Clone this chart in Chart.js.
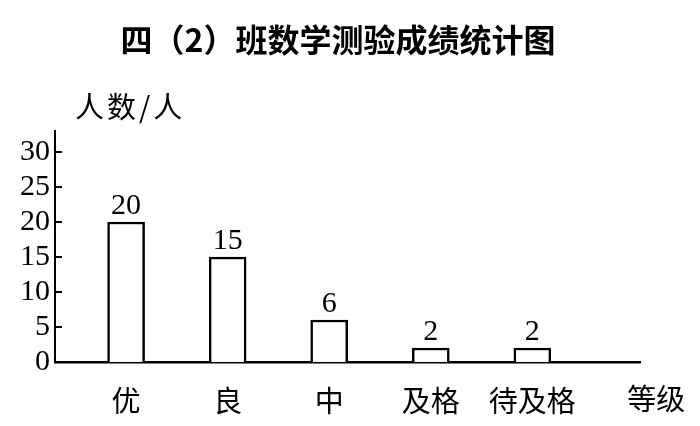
<!DOCTYPE html>
<html>
<head>
<meta charset="utf-8">
<script src="https://cdn.jsdelivr.net/npm/chart.js@4"></script>
<style>
  html, body { margin: 0; padding: 0; background: #fff; }
  #wrap { width: 700px; height: 426px; }
</style>
</head>
<body>
<div id="wrap"><canvas id="chart"></canvas></div>
<script>
// data
let grades = ['优', '良', '中', '及格', '待及格'];
let counts = [20, 15, 6, 2, 2];
let yTicks = [0, 5, 10, 15, 20, 25, 30];
let yTitle = '人数/人';
let xTitle = '等级';
let title = '四（2）班数学测验成绩统计图';

let cjk = '"Noto Sans CJK SC", "Noto Sans", sans-serif';
let serif = '"Liberation Serif", "DejaVu Serif", serif';

// title, numbers over bars, tick marks pointing right, axis names
let extras = {
  id: 'extras',
  afterDatasetsDraw(chart) {
    let ctx = chart.ctx;
    let area = chart.chartArea;
    let y = chart.scales.y;
    let x = chart.scales.x;
    ctx.save();
    ctx.strokeStyle = '#000';
    ctx.lineWidth = 2;
    yTicks.forEach(function (t) {
      let py = y.getPixelForValue(t);
      ctx.beginPath();
      ctx.moveTo(area.left, py);
      ctx.lineTo(area.left + 7, py);
      ctx.stroke();
    });
    ctx.fillStyle = '#000';
    ctx.font = '30px ' + serif;
    ctx.textAlign = 'center';
    ctx.textBaseline = 'bottom';
    chart.getDatasetMeta(0).data.forEach(function (bar, i) {
      ctx.fillText(String(counts[i]), bar.x, bar.y - 1);
    });
    ctx.textBaseline = 'middle';
    ctx.font = 'bold 32px ' + cjk;
    ctx.fillText(title, 338, 40);
    ctx.font = '29px ' + cjk;
    ctx.fillText(xTitle, x.getPixelForValue(5.22), 399);
    ctx.letterSpacing = '3px';
    ctx.textAlign = 'left';
    ctx.fillText(yTitle, area.left + 20, 107);
    ctx.restore();
  }
};

let ctx = document.getElementById('chart').getContext('2d');
let chart = new Chart(ctx, {
  type: 'bar',
  data: {
    datasets: [{
      data: counts.map(function (v, i) { return { x: i, y: v }; }),
      backgroundColor: '#fff',
      borderColor: '#000',
      borderWidth: 2.5,
      barThickness: 37
    }]
  },
  options: {
    responsive: true,
    maintainAspectRatio: false,
    animation: false,
    layout: { padding: { left: 0, right: 60, top: 131, bottom: 0 } },
    plugins: {
      legend: { display: false },
      tooltip: { enabled: false },
      title: { display: false }
    },
    scales: {
      x: {
        type: 'linear',
        offset: false,
        min: -0.7,
        max: 5.06,
        afterBuildTicks: function (s) {
          s.ticks = grades.map(function (g, i) { return { value: i }; });
        },
        afterFit: function (s) { s.height = 64; },
        grid: { display: false, drawTicks: false, offset: false },
        border: { display: true, color: '#000', width: 2.5 },
        ticks: {
          color: '#000',
          padding: 22,
          autoSkip: false,
          maxRotation: 0,
          font: { family: cjk, size: 29 },
          callback: function (v) { return grades[v]; }
        }
      },
      y: {
        min: 0,
        max: 33,
        afterBuildTicks: function (s) {
          s.ticks = yTicks.map(function (t) { return { value: t }; });
        },
        afterFit: function (s) { s.width = 55; },
        grid: { display: false, drawTicks: false },
        border: { display: true, color: '#000', width: 2 },
        ticks: {
          color: '#000',
          padding: 5,
          autoSkip: false,
          font: { family: serif, size: 30 }
        }
      }
    }
  },
  plugins: [extras]
});
</script>
</body>
</html>
